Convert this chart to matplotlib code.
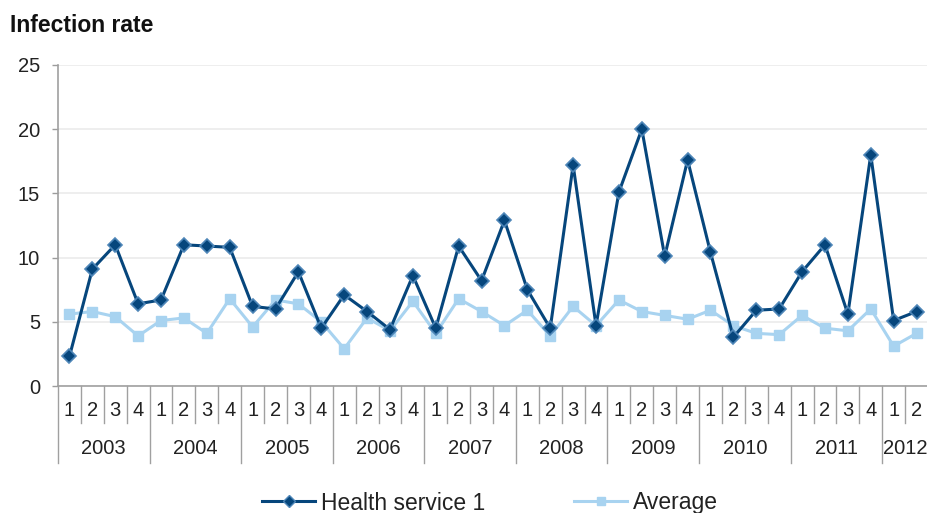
import matplotlib
matplotlib.use("Agg")
import matplotlib.pyplot as plt
from matplotlib.lines import Line2D

plt.rcParams['font.family'] = ['Liberation Sans', 'DejaVu Sans']

years = ["2003", "2004", "2005", "2006", "2007", "2008", "2009", "2010", "2011", "2012"]
quarters_per_year = [4, 4, 4, 4, 4, 4, 4, 4, 4, 2]

health_service_1 = [2.3, 9.1, 11.0, 6.4,
                    6.7, 11.0, 10.9, 10.8,
                    6.2, 6.0, 8.9, 4.5,
                    7.1, 5.8, 4.4, 8.6,
                    4.5, 10.9, 8.2, 12.9,
                    7.5, 4.5, 17.2, 4.7,
                    15.1, 20.0, 10.1, 17.6,
                    10.4, 3.8, 5.9, 6.0,
                    8.9, 11.0, 5.6, 18.0,
                    5.1, 5.8]
average = [5.6, 5.8, 5.4, 3.9,
           5.1, 5.3, 4.1, 6.8,
           4.6, 6.7, 6.4, 5.0,
           2.9, 5.3, 4.3, 6.6,
           4.1, 6.8, 5.8, 4.7,
           5.9, 3.9, 6.2, 4.7,
           6.7, 5.8, 5.5, 5.2,
           5.9, 4.7, 4.1, 4.0,
           5.5, 4.5, 4.3, 6.0,
           3.1, 4.1]

W, H = 928, 513
fig = plt.figure(figsize=(W / 100, H / 100), dpi=100)
ax_left, ax_right, ax_top, ax_bottom = 58, 928, 65, 386
ax = fig.add_axes([ax_left / W, 1 - ax_bottom / H,
                   (ax_right - ax_left) / W, (ax_bottom - ax_top) / H])

n = len(health_service_1)
x = list(range(n))

hs_color = '#06467C'
hs_edge = '#4E86B8'
avg_color = '#A8D3F0'
txt_color = '#222222'
fs = 14.5

ax.plot(x, average, color=avg_color, lw=2.2, marker='s', ms=7.5,
        mfc=avg_color, mec=avg_color, zorder=3, clip_on=False)
ax.plot(x, health_service_1, color=hs_color, lw=2.2, marker='D', ms=7.5,
        mfc=hs_color, mec=hs_edge, mew=1.2, zorder=4, clip_on=False)

ax.set_xlim(-0.5, n - 0.5)
ax.set_ylim(0, 25)
ax.set_yticks([0, 5, 10, 15, 20, 25])
ax.yaxis.grid(True, color='#EBEBEB', lw=1.2)
ax.set_axisbelow(True)
ax.tick_params(axis='y', length=4, width=1, color='#9C9C9C', pad=9,
               labelsize=fs, labelcolor=txt_color)
ax.set_xticks([])
for s in ['top', 'right']:
    ax.spines[s].set_visible(False)
for s in ['left', 'bottom']:
    ax.spines[s].set_color('#A0A0A0')
    ax.spines[s].set_linewidth(1.2)

# Two-level category axis: quarter numbers and years
axh = ax_bottom - ax_top
trans = ax.get_xaxis_transform()
q_sep = -37 / axh
y_sep = -77 / axh
q_lab = -25 / axh
y_lab = -63 / axh
sep_kw = dict(color='#A0A0A0', lw=1.0, transform=trans, clip_on=False)

ax.plot([-0.5, -0.5], [0, y_sep], **sep_kw)
pos = 0
for yr, nq in zip(years, quarters_per_year):
    for q in range(nq):
        ax.text(pos + q, q_lab, str(q + 1), transform=trans, ha='center',
                va='center', fontsize=fs, color=txt_color)
        if q < nq - 1:
            ax.plot([pos + q + 0.5] * 2, [0, q_sep], **sep_kw)
    ax.text(pos + (nq - 1) / 2, y_lab, yr, transform=trans, ha='center',
            va='center', fontsize=fs, color=txt_color)
    end = pos + nq - 0.5
    if end < n - 0.5:
        ax.plot([end, end], [0, y_sep], **sep_kw)
    pos += nq

fig.text(10 / W, 1 - 25 / H, 'Infection rate', fontsize=16.5, fontweight='bold',
         ha='left', va='center', color='#111111')

handles = [
    Line2D([], [], color=hs_color, lw=2.2, marker='D', ms=6, mfc=hs_color,
           mec=hs_edge, mew=1.0),
    Line2D([], [], color=avg_color, lw=2.2, marker='s', ms=6,
           mfc=avg_color, mec=avg_color),
]
fig.legend(handles, ['Health service 1', 'Average'], ncol=2, frameon=False,
           loc='center', bbox_to_anchor=(490 / W, 1 - 503 / H),
           fontsize=16.5, handlelength=2.3, handletextpad=0.25,
           columnspacing=3.9, labelcolor=txt_color)

fig.savefig('out.png', dpi=100)
